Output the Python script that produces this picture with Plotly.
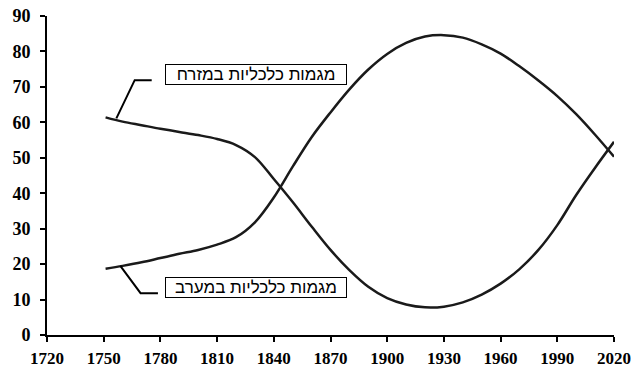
import plotly.graph_objects as go

# years sampled along both curves
years = [1751, 1760, 1770, 1780, 1790, 1800, 1810, 1820, 1830, 1840, 1850,
         1860, 1870, 1880, 1890, 1900, 1910, 1920, 1930, 1940, 1950, 1960,
         1970, 1980, 1990, 2000, 2010, 2020]

east = [61.4, 60.2, 59.2, 58.2, 57.3, 56.4, 55.3, 53.6, 50.2, 44.0, 37.5,
        30.6, 24.0, 18.3, 13.6, 10.4, 8.6, 7.8, 8.0, 9.2, 11.4, 14.5,
        18.6, 24.0, 31.0, 39.5, 47.2, 54.5]

west = [18.7, 19.5, 20.5, 21.7, 22.9, 24.0, 25.5, 27.6, 31.8, 38.8, 47.5,
        55.8, 62.8, 69.3, 74.9, 79.3, 82.4, 84.2, 84.6, 83.9, 82.0, 79.4,
        75.8, 71.8, 67.4, 62.3, 56.5, 50.3]

label_east = "מגמות כלכליות במזרח"
label_west = "מגמות כלכליות במערב"

x_ticks = [1720, 1750, 1780, 1810, 1840, 1870, 1900, 1930, 1960, 1990, 2020]
y_ticks = [0, 10, 20, 30, 40, 50, 60, 70, 80, 90]

fig = go.Figure()
for series, name in [(east, label_east), (west, label_west)]:
    fig.add_trace(go.Scatter(x=years, y=series, mode='lines', name=name,
                             line=dict(color='#1a1a1a', width=2.5, shape='spline', smoothing=1)))

# label boxes with leader lines
box_font = dict(family='Liberation Sans', size=17, color='black')
fig.add_annotation(x=1830.4, y=73.4, text=label_east, showarrow=False, font=box_font,
                   bordercolor='black', borderwidth=1, borderpad=0, width=180, bgcolor='white')
fig.add_annotation(x=1830.4, y=13.4, text=label_west, showarrow=False, font=box_font,
                   bordercolor='black', borderwidth=1, borderpad=0, width=180, bgcolor='white')
fig.add_shape(type='path', path='M 1756.7 61.1 L 1766.4 71.9 L 1775.4 71.9',
              line=dict(color='black', width=2))
fig.add_shape(type='path', path='M 1758.8 19.5 L 1769.5 11.8 L 1778.7 11.8',
              line=dict(color='black', width=2))

fig.update_xaxes(range=[1720, 2020], tickvals=x_ticks, showline=True, linecolor='black',
                 linewidth=2, ticks='outside', ticklen=5, tickwidth=2, tickcolor='black',
                 showgrid=False, zeroline=False, automargin=False, ticklabelstandoff=2,
                 tickfont=dict(family='Liberation Serif', size=17, color='black', weight='bold'))
fig.update_yaxes(range=[0, 90], tickvals=y_ticks, showline=True, linecolor='black',
                 linewidth=2, ticks='outside', ticklen=5, tickwidth=2, tickcolor='black',
                 showgrid=False, zeroline=False, automargin=False, ticklabelstandoff=6,
                 tickfont=dict(family='Liberation Serif', size=18, color='black', weight='bold'))
fig.update_layout(width=632, height=367, margin=dict(l=47, r=18, t=16, b=32),
                  showlegend=False, plot_bgcolor='white', paper_bgcolor='white')

# page body has a default 8px margin; drop it so the figure fills the window
fig.write_html("out.html", config={'displayModeBar': False},
               post_script="document.body.style.margin='0';")
